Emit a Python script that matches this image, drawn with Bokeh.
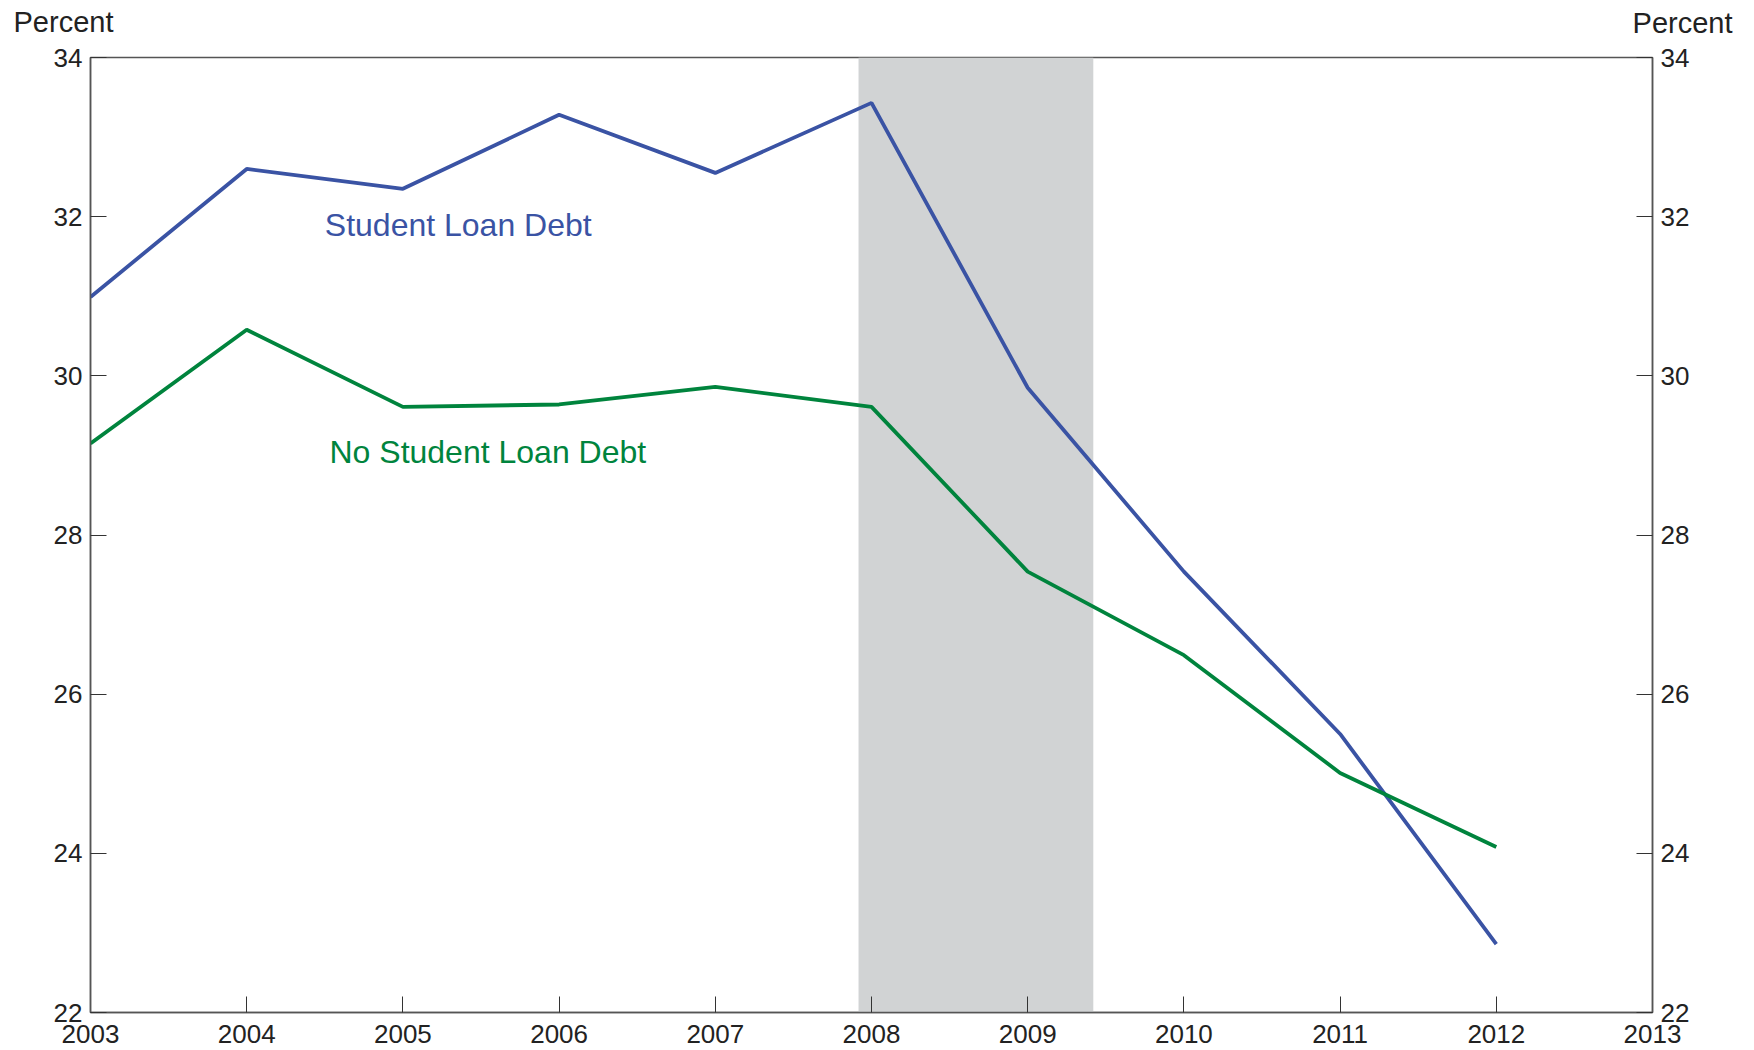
from bokeh.plotting import figure
from bokeh.layouts import column
from bokeh.models import Range1d, LinearAxis, FixedTicker, Label, ColumnDataSource
from bokeh.core.properties import value
from bokeh.embed import file_html
from bokeh.resources import INLINE

# ---- data ----
years = [2003, 2004, 2005, 2006, 2007, 2008, 2009, 2010, 2011, 2012]
student_loan = [30.99, 32.60, 32.35, 33.28, 32.55, 33.43, 29.85, 27.54, 25.50, 22.86]
no_student_loan = [29.15, 30.58, 29.61, 29.64, 29.86, 29.61, 27.54, 26.49, 25.01, 24.08]
recession_start = [2007.917]
recession_end = [2009.42]
x_ticks = [2003, 2004, 2005, 2006, 2007, 2008, 2009, 2010, 2011, 2012, 2013]
y_ticks = [22, 24, 26, 28, 30, 32, 34]
series_labels = ["Student Loan Debt", "No Student Loan Debt"]
label_x = [2004.50, 2004.53]
label_y = [31.90, 29.04]
unit_label = "Percent"

FONT = "Liberation Sans"
BLUE = "#3a53a4"
GREEN = "#00843d"
AXIS = "#555555"
TXT = "#222222"

W, H = 1754, 1050
HEAD = 41        # height of the strip holding the unit labels
FRAME_TOP = 57   # page y of the plot frame's top edge

# ---- strip above the chart with the two "Percent" unit labels ----
head = figure(width=W, height=HEAD, x_range=Range1d(0, W), y_range=Range1d(0, HEAD),
              output_backend="svg", toolbar_location=None,
              x_axis_location=None, y_axis_location=None,
              min_border_left=0, min_border_right=0, min_border_top=0, min_border_bottom=0)
head.frame_align = False
head.xgrid.visible = False
head.ygrid.visible = False
head.outline_line_color = None
head.background_fill_color = "white"
head.border_fill_color = "white"
head.text(x=[13], y=[HEAD - 21], text=[unit_label], text_font=value(FONT),
          text_font_size="29px", text_color=TXT, text_align="left", text_baseline="alphabetic")
head.text(x=[1732], y=[HEAD - 22], text=[unit_label], text_font=value(FONT),
          text_font_size="29px", text_color=TXT, text_align="right", text_baseline="alphabetic")

# ---- main chart ----
p = figure(width=W, height=H - HEAD,
           x_range=Range1d(2003, 2013), y_range=Range1d(22, 34),
           output_backend="svg", toolbar_location=None,
           min_border_left=90, min_border_right=W - 1652,
           min_border_top=FRAME_TOP - HEAD, min_border_bottom=H - 1012)
p.frame_align = False
p.xgrid.visible = False
p.ygrid.visible = False
p.outline_line_color = AXIS
p.outline_line_width = 1.5
p.background_fill_color = "white"
p.border_fill_color = "white"

# recession shading
rec = ColumnDataSource(dict(left=recession_start, right=recession_end,
                            bottom=[22], top=[34]))
p.quad(left="left", right="right", bottom="bottom", top="top", source=rec,
       fill_color="#d1d3d4", line_color=None, level="underlay")

p.line(years, student_loan, line_color=BLUE, line_width=3.8)
p.line(years, no_student_loan, line_color=GREEN, line_width=3.8)

right_axis = LinearAxis()
p.add_layout(right_axis, "right")

for ax in [p.yaxis[0], right_axis]:
    ax.ticker = FixedTicker(ticks=y_ticks)

p.xaxis.ticker = FixedTicker(ticks=x_ticks)

for ax in p.axis:
    ax.axis_line_color = AXIS
    ax.axis_line_width = 1.5
    ax.major_tick_line_color = "#333333"
    ax.major_tick_line_width = 1
    ax.major_tick_in = 16
    ax.major_tick_out = 0
    ax.minor_tick_line_color = None
    ax.major_label_text_font = FONT
    ax.major_label_text_font_size = "26px"
    ax.major_label_text_color = TXT

p.yaxis[0].major_label_standoff = 8
right_axis.major_label_standoff = 8
p.xaxis.major_label_standoff = 12

colors = [BLUE, GREEN]
for t, x, y, c in zip(series_labels, label_x, label_y, colors):
    p.add_layout(Label(x=x, y=y, text=t, text_font=FONT, text_font_size="32px",
                       text_color=c, text_align="left", text_baseline="alphabetic"))

layout = column(head, p, spacing=0)
open("out.html", "w").write(file_html(layout, INLINE))
